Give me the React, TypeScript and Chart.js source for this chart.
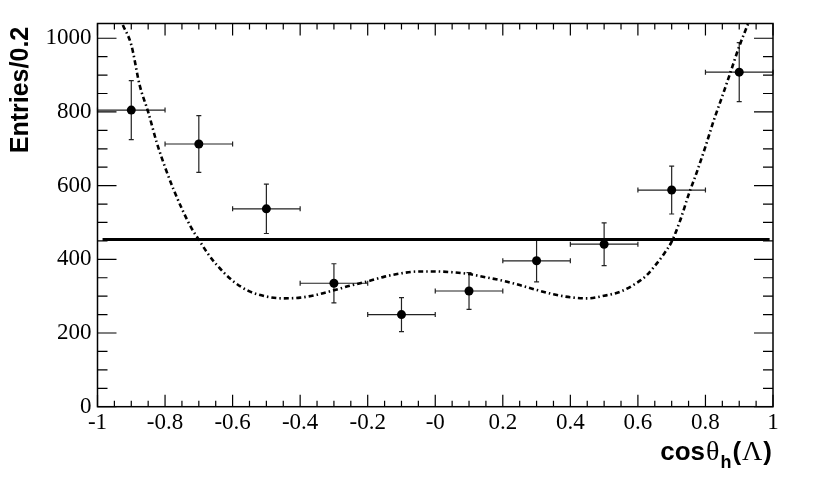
import { useEffect, useRef } from 'react';
import { Chart, registerables } from 'chart.js';

Chart.register(...registerables);

// ---- data ----
const binCenters = [-0.9, -0.7, -0.5, -0.3, -0.1, 0.1, 0.3, 0.5, 0.7, 0.9];
const entries = [805, 713, 537, 335, 250, 314, 396, 441, 588, 908];
const entryErrors = [80, 77, 67, 53, 46, 50, 57, 58, 65, 80];
const binHalfWidth = 0.1;

const fitX = [-0.925, -0.9, -0.875, -0.85, -0.825, -0.8, -0.775, -0.75, -0.725, -0.7, -0.675, -0.65, -0.6, -0.55, -0.5, -0.45, -0.4, -0.35, -0.3, -0.25, -0.2, -0.15, -0.1, -0.05, 0, 0.05, 0.1, 0.15, 0.2, 0.25, 0.3, 0.35, 0.4, 0.45, 0.5, 0.55, 0.6, 0.625, 0.65, 0.675, 0.7, 0.725, 0.75, 0.775, 0.8, 0.825, 0.85, 0.875, 0.9, 0.927];
const fitY = [1036, 982, 872, 800, 718, 650, 590, 537, 490, 453, 418, 388, 342, 313, 299, 294, 296, 304, 316, 329, 340, 353, 362, 367, 367, 365, 360, 351, 342, 330, 317, 305, 297, 294, 301, 313, 338, 356, 382, 412, 448, 505, 575, 638, 706, 778, 843, 910, 978, 1041];

const flatX = [-0.985, 0.99];
const flatLevel = 454;

const xTickValues = [-1, -0.8, -0.6, -0.4, -0.2, 0, 0.2, 0.4, 0.6, 0.8, 1];
const xTickLabels = ['-1', '-0.8', '-0.6', '-0.4', '-0.2', '-0', '0.2', '0.4', '0.6', '0.8', '1'];
const yTickValues = [0, 200, 400, 600, 800, 1000];
const yTickLabels = ['0', '200', '400', '600', '800', '1000'];

const X_MIN = -1;
const X_MAX = 1;
const Y_MIN = 0;
const Y_MAX = 1040;

const yTitle = 'Entries/0.2';

const rootPlugin = {
  id: 'rootStyle',
  beforeDatasetsDraw(chart: any) {
    const { ctx, scales } = chart;
    const xs = scales.x;
    const ys = scales.y;
    ctx.save();
    ctx.strokeStyle = '#222';
    ctx.lineWidth = 1.2;
    binCenters.forEach((c, i) => {
      const px = xs.getPixelForValue(c);
      const py = ys.getPixelForValue(entries[i]);
      const xl = xs.getPixelForValue(c - binHalfWidth);
      const xr = xs.getPixelForValue(c + binHalfWidth);
      const yt = ys.getPixelForValue(entries[i] + entryErrors[i]);
      const yb = ys.getPixelForValue(entries[i] - entryErrors[i]);
      ctx.beginPath();
      ctx.moveTo(xl, py); ctx.lineTo(xr, py);
      ctx.moveTo(xl, py - 2.5); ctx.lineTo(xl, py + 2.5);
      ctx.moveTo(xr, py - 2.5); ctx.lineTo(xr, py + 2.5);
      ctx.moveTo(px, yt); ctx.lineTo(px, yb);
      ctx.moveTo(px - 2.5, yt); ctx.lineTo(px + 2.5, yt);
      ctx.moveTo(px - 2.5, yb); ctx.lineTo(px + 2.5, yb);
      ctx.stroke();
    });
    ctx.restore();
  },
  afterDraw(chart: any) {
    const { ctx, scales, chartArea } = chart;
    const xs = scales.x;
    const ys = scales.y;
    const { left, right, top, bottom } = chartArea;
    ctx.save();
    ctx.strokeStyle = '#000';
    ctx.lineWidth = 1.5;
    ctx.strokeRect(left, top, right - left, bottom - top);

    ctx.lineWidth = 1.2;
    ctx.beginPath();
    // x ticks (bottom and top), major 0.2, minor 0.05
    const xStep = xTickValues[1] - xTickValues[0];
    const xMinor = xStep / 4;
    for (let k = 0; k <= Math.round((X_MAX - X_MIN) / xMinor); k++) {
      const v = X_MIN + k * xMinor;
      const px = xs.getPixelForValue(v);
      const len = k % 4 === 0 ? 12 : 6;
      ctx.moveTo(px, bottom); ctx.lineTo(px, bottom - len);
      ctx.moveTo(px, top); ctx.lineTo(px, top + len);
    }
    // y ticks (left and right), major 200, minor 50
    const yStep = yTickValues[1] - yTickValues[0];
    const yMinor = yStep / 4;
    for (let k = 0; Y_MIN + k * yMinor <= Y_MAX; k++) {
      const v = Y_MIN + k * yMinor;
      const py = ys.getPixelForValue(v);
      const len = k % 4 === 0 ? 19 : 10;
      ctx.moveTo(left, py); ctx.lineTo(left + len, py);
      ctx.moveTo(right, py); ctx.lineTo(right - len, py);
    }
    ctx.stroke();

    // y title
    ctx.fillStyle = '#000';
    ctx.save();
    ctx.translate(28, 90);
    ctx.rotate(-Math.PI / 2);
    ctx.font = 'bold 25px "Liberation Sans"';
    ctx.textAlign = 'center';
    ctx.textBaseline = 'alphabetic';
    ctx.fillText(yTitle, 0, 0);
    ctx.restore();

    // x title: cos θ_h (Λ), right aligned
    const base = 460;
    const parts = [
      { t: 'cos', f: 'bold 26px "Liberation Sans"', dy: 0 },
      { t: 'θ', f: '28px "Liberation Serif"', dy: 0 },
      { t: 'h', f: 'bold 18px "Liberation Sans"', dy: 8 },
      { t: '(', f: 'bold 26px "Liberation Sans"', dy: 0 },
      { t: 'Λ', f: '28px "Liberation Serif"', dy: 0 },
      { t: ')', f: 'bold 26px "Liberation Sans"', dy: 0 },
    ];
    let total = 0;
    const widths = parts.map((p) => { ctx.font = p.f; const w = ctx.measureText(p.t).width + 1; total += w; return w; });
    let x = right - total;
    ctx.textAlign = 'left';
    ctx.textBaseline = 'alphabetic';
    parts.forEach((p, i) => {
      ctx.font = p.f;
      ctx.fillText(p.t, x, base + p.dy);
      x += widths[i];
    });
    ctx.restore();
  },
};

export default function App() {
  const ref = useRef<HTMLCanvasElement>(null);
  useEffect(() => {
    const canvas = ref.current;
    if (!canvas) return;
    const chart = new Chart(canvas, {
      type: 'scatter',
      data: {
        datasets: [
          {
            label: 'data',
            data: binCenters.map((x, i) => ({ x, y: entries[i] })),
            pointRadius: 4.5,
            pointBackgroundColor: '#000',
            pointBorderColor: '#000',
            pointBorderWidth: 0,
            showLine: false,
            order: 0,
          },
          {
            label: 'fit',
            data: fitX.map((x, i) => ({ x, y: fitY[i] })),
            showLine: true,
            pointRadius: 0,
            borderColor: '#000',
            borderWidth: 2.6,
            borderDash: [5, 3, 1.5, 3],
            cubicInterpolationMode: 'monotone',
            order: 1,
          },
          {
            label: 'flat',
            data: flatX.map((x) => ({ x, y: flatLevel })),
            showLine: true,
            pointRadius: 0,
            borderColor: '#000',
            borderWidth: 3,
            order: 2,
          },
        ],
      } as any,
      options: {
        responsive: false,
        animation: false,
        events: [],
        layout: { padding: { top: 23.5, right: 41, left: 0, bottom: 0 } },
        plugins: { legend: { display: false }, tooltip: { enabled: false } },
        scales: {
          x: {
            type: 'linear',
            min: X_MIN,
            max: X_MAX,
            afterBuildTicks: (s: any) => { s.ticks = xTickValues.map((v) => ({ value: v })); },
            afterFit: (s: any) => { s.height = 78.3; },
            ticks: {
              callback: (_v: any, i: number) => xTickLabels[i],
              font: { family: '"Liberation Serif"', size: 23 },
              color: '#000',
              padding: 2,
              maxRotation: 0,
              autoSkip: false,
            },
            grid: { display: false, drawTicks: false },
            border: { display: false },
          },
          y: {
            type: 'linear',
            min: Y_MIN,
            max: Y_MAX,
            afterBuildTicks: (s: any) => { s.ticks = yTickValues.map((v) => ({ value: v })); },
            afterFit: (s: any) => { s.width = 97.5; },
            ticks: {
              callback: (_v: any, i: number) => yTickLabels[i],
              font: { family: '"Liberation Serif"', size: 23 },
              color: '#000',
              padding: 6,
              autoSkip: false,
            },
            grid: { display: false, drawTicks: false },
            border: { display: false },
          },
        },
      } as any,
      plugins: [rootPlugin],
    });
    return () => chart.destroy();
  }, []);
  return (
    <div style={{ position: 'absolute', left: 0, top: 0, width: 814, height: 485, background: '#fff' }}>
      <canvas ref={ref} width={814} height={485} style={{ display: 'block' }} />
    </div>
  );
}
